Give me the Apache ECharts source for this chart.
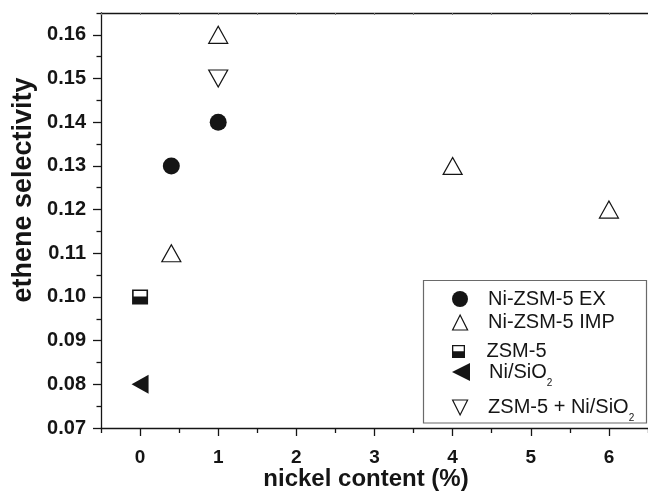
<!DOCTYPE html>
<html>
<head>
<meta charset="utf-8">
<script src="https://cdn.jsdelivr.net/npm/echarts@6/dist/echarts.min.js"></script>
<style>
html,body{margin:0;padding:0;background:#fff;}
#c{width:648px;height:491px;}
</style>
</head>
<body>
<div id="c"></div>
<script>
// ---- data ----
const xTicks = [0, 1, 2, 3, 4, 5, 6];
const xMinorTicks = [-0.5, 0.5, 1.5, 2.5, 3.5, 4.5, 5.5, 6.5];
const yTicks = [0.07, 0.08, 0.09, 0.10, 0.11, 0.12, 0.13, 0.14, 0.15, 0.16];
const yMinorTicks = [0.075, 0.085, 0.095, 0.105, 0.115, 0.125, 0.135, 0.145, 0.155, 0.165];

const seriesNames = ['Ni-ZSM-5 EX', 'Ni-ZSM-5 IMP', 'ZSM-5', 'Ni/SiO2', 'ZSM-5 + Ni/SiO2'];
const exX = [0.4, 1];
const exY = [0.13, 0.14];
const impX = [0.4, 1, 4, 6];
const impY = [0.11, 0.16, 0.13, 0.12];
const zsmX = [0];
const zsmY = [0.10];
const niX = [0];
const niY = [0.08];
const mixX = [1];
const mixY = [0.15];

const pairs = (xs, ys) => xs.map((x, i) => [x, ys[i]]);

const INK = '#151515';
const FONT = '"Liberation Sans", Arial, Helvetica, sans-serif';

const symUp = 'path://M5,0 L10,10 L0,10 Z';
const symDown = 'path://M0,0 L10,0 L5,10 Z';
const symLeft = 'path://M0,5 L10,0 L10,10 Z';
const symHalfSquare = 'path://M0,0 H16 V16 H0 Z M1.6,1.6 V7.6 H14.4 V1.6 Z';

const chart = echarts.init(document.getElementById('c'), null, {renderer: 'canvas'});

const axisLineStyle = {color: INK, width: 1.3};

function legendFor(name, centerY, iw, ih, border) {
  return {
    data: [name],
    left: 452,
    top: centerY - ih / 2,
    orient: 'vertical',
    selectedMode: false,
    padding: 0,
    itemWidth: iw,
    itemHeight: ih,
    symbolKeepAspect: true,
    itemStyle: {borderWidth: border},
    formatter: n => n.replace(/O2$/, 'O{sub|2}'),
    textStyle: {
      color: INK, fontFamily: FONT, fontSize: 20, lineHeight: 20,
      rich: {sub: {fontFamily: FONT, fontSize: 10, color: INK, padding: [22, 0, 0, 0]}}
    }
  };
}

const option = {
  animation: false,
  backgroundColor: '#fff',
  grid: {left: 101, top: 13, right: -3, bottom: 63, containLabel: false},
  xAxis: [
    {
      type: 'value', position: 'bottom', min: -0.5, max: 6.5,
      axisLine: {show: true, onZero: false, lineStyle: axisLineStyle},
      axisTick: {show: true, length: 8, lineStyle: {color: INK, width: 1.3}, customValues: xTicks},
      axisLabel: {customValues: xTicks, margin: 20, color: INK, fontFamily: FONT, fontWeight: 'bold', fontSize: 19},
      splitLine: {show: false}
    },
    {
      type: 'value', position: 'bottom', min: -0.5, max: 6.5,
      axisLine: {show: false, onZero: false},
      axisTick: {show: true, length: 5, lineStyle: {color: INK, width: 1.3}, customValues: xMinorTicks},
      axisLabel: {show: false},
      splitLine: {show: false}
    },
    {
      type: 'value', position: 'top', min: -0.5, max: 6.5, interval: 0.5,
      axisLine: {show: true, onZero: false, lineStyle: axisLineStyle},
      axisTick: {show: true, inside: true, length: 2, lineStyle: {color: '#777', width: 1}},
      axisLabel: {show: false},
      splitLine: {show: false}
    }
  ],
  yAxis: [
    {
      type: 'value', position: 'left', min: 0.07, max: 0.165,
      axisLine: {show: true, onZero: false, lineStyle: axisLineStyle},
      axisTick: {show: true, length: 8, lineStyle: {color: INK, width: 1.3}, customValues: yTicks},
      axisLabel: {customValues: yTicks, margin: 15, color: INK, fontFamily: FONT, fontWeight: 'bold', fontSize: 20,
        formatter: v => v.toFixed(2)},
      splitLine: {show: false}
    },
    {
      type: 'value', position: 'left', min: 0.07, max: 0.165,
      axisLine: {show: false, onZero: false},
      axisTick: {show: true, length: 4.5, lineStyle: {color: INK, width: 1.3}, customValues: yMinorTicks},
      axisLabel: {show: false},
      splitLine: {show: false}
    }
  ],
  legend: [
    legendFor(seriesNames[0], 297, 46, 16, 0),
    legendFor(seriesNames[1], 320, 46, 15, 1.2),
    legendFor(seriesNames[2], 348, 46, 13, 0),
    legendFor(seriesNames[3], 371, 46, 18, 0),
    legendFor(seriesNames[4], 405, 46, 15, 1.2)
  ],
  graphic: [
    {type: 'rect', shape: {x: 423.5, y: 280.5, width: 223, height: 142.5},
     style: {fill: 'none', stroke: '#6a6a6a', lineWidth: 1.2}, z: 1},
    {type: 'text', x: 24, y: 190, rotation: Math.PI / 2,
     style: {text: 'ethene selectivity', fontFamily: FONT, fontWeight: 'bold', fontSize: 27, fill: INK,
       align: 'center', verticalAlign: 'middle'}},
    {type: 'text', x: 366, y: 479,
     style: {text: 'nickel content (%)', fontFamily: FONT, fontWeight: 'bold', fontSize: 24, fill: INK,
       align: 'center', verticalAlign: 'middle'}}
  ],
  series: [
    {name: seriesNames[0], type: 'scatter', data: pairs(exX, exY), symbol: 'circle', symbolSize: 17,
     itemStyle: {color: INK, borderColor: INK, borderWidth: 0, opacity: 1}},
    {name: seriesNames[1], type: 'scatter', data: pairs(impX, impY), symbol: symUp, symbolSize: [19, 17],
     itemStyle: {color: '#fff', borderColor: INK, borderWidth: 1.2, opacity: 1}},
    {name: seriesNames[2], type: 'scatter', data: pairs(zsmX, zsmY), symbol: symHalfSquare, symbolSize: [16, 15],
     itemStyle: {color: INK, borderColor: INK, borderWidth: 0, opacity: 1}},
    {name: seriesNames[3], type: 'scatter', data: pairs(niX, niY), symbol: symLeft, symbolSize: [17, 19],
     itemStyle: {color: INK, borderColor: INK, borderWidth: 0, opacity: 1}},
    {name: seriesNames[4], type: 'scatter', data: pairs(mixX, mixY), symbol: symDown, symbolSize: [19, 17],
     itemStyle: {color: '#fff', borderColor: INK, borderWidth: 1.2, opacity: 1}}
  ]
};

chart.setOption(option);
</script>
</body>
</html>
